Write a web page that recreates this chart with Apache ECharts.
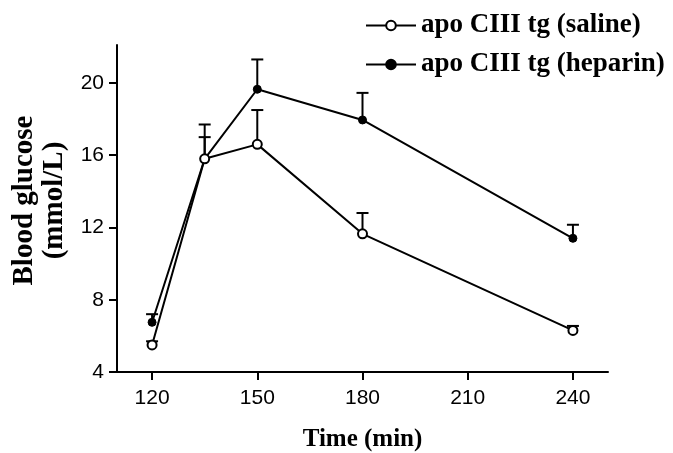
<!DOCTYPE html>
<html>
<head>
<meta charset="utf-8">
<script src="https://cdn.jsdelivr.net/npm/echarts@6/dist/echarts.min.js"></script>
<style>html,body{margin:0;padding:0;background:#fff;}#c{width:673px;height:453px;}</style>
</head>
<body>
<div id="c"></div>
<script>
const times = [120, 135, 150, 180, 240];
const salineMean = [5.5, 15.8, 16.6, 11.65, 6.3];
const salineUpper = [5.7, 17.0, 18.5, 12.8, 6.55];
const heparinMean = [6.75, 15.8, 19.65, 17.95, 11.4];
const heparinUpper = [7.2, 17.7, 21.3, 19.45, 12.15];
const yTicks = [4, 8, 12, 16, 20];
const xTicks = [120, 150, 180, 210, 240];

const serif = '"Liberation Serif", "Times New Roman", serif';
const sans = '"Liberation Sans", Arial, sans-serif';

function errSeries(mean, upper, z) {
  return {
    type: 'custom',
    z: z,
    silent: true,
    data: times.map((t, i) => [t, mean[i], upper[i]]),
    renderItem: function (params, api) {
      const p0 = api.coord([api.value(0), api.value(1)]);
      const p1 = api.coord([api.value(0), api.value(2)]);
      const st = { stroke: '#000', lineWidth: 2 };
      return {
        type: 'group',
        children: [
          { type: 'line', shape: { x1: p0[0], y1: p0[1], x2: p1[0], y2: p1[1] }, style: st },
          { type: 'line', shape: { x1: p1[0] - 6, y1: p1[1], x2: p1[0] + 6, y2: p1[1] }, style: st }
        ]
      };
    }
  };
}

const chart = echarts.init(document.getElementById('c'), null, { renderer: 'canvas' });
chart.setOption({
  animation: false,
  backgroundColor: '#fff',
  grid: { left: 117, right: 65, top: 45, bottom: 81, containLabel: false, outerBoundsMode: 'none' },
  legend: {
    left: 360, top: 7, orient: 'vertical', itemGap: 12,
    itemWidth: 50, itemHeight: 12,
    textStyle: { fontFamily: serif, fontWeight: 'bold', fontSize: 27, color: '#000' },
    data: ['apo CIII tg (saline)', 'apo CIII tg (heparin)']
  },
  xAxis: {
    type: 'value', min: 110, max: 250, interval: 30,
    name: 'Time (min)', nameLocation: 'middle', nameGap: 55,
    nameTextStyle: { fontFamily: serif, fontWeight: 'bold', fontSize: 25, color: '#000' },
    axisLine: { onZero: false, lineStyle: { color: '#000', width: 2 } },
    axisTick: { show: true, length: 8, lineStyle: { color: '#000', width: 2 },
      customValues: xTicks },
    axisLabel: { color: '#000', fontFamily: sans, fontSize: 21, margin: 16, customValues: xTicks },
    splitLine: { show: false }
  },
  yAxis: {
    type: 'value', min: 4, max: 22.1, interval: 4,
    name: 'Blood glucose\n(mmol/L)', nameLocation: 'middle', nameGap: 45, nameRotate: 90,
    nameTextStyle: { fontFamily: serif, fontWeight: 'bold', fontSize: 29, color: '#000', lineHeight: 30,
      padding: [0, 0, 0, 16] },
    axisLine: { onZero: false, lineStyle: { color: '#000', width: 2 } },
    axisTick: { show: true, length: 8, lineStyle: { color: '#000', width: 2 }, customValues: yTicks },
    axisLabel: { color: '#000', fontFamily: sans, fontSize: 21, margin: 13, customValues: yTicks },
    splitLine: { show: false }
  },
  series: [
    errSeries(salineMean, salineUpper, 1),
    errSeries(heparinMean, heparinUpper, 1),
    {
      name: 'apo CIII tg (heparin)', type: 'line', z: 3,
      data: times.map((t, i) => [t, heparinMean[i]]),
      symbol: 'circle', symbolSize: 8,
      lineStyle: { color: '#000', width: 2 },
      itemStyle: { color: '#000', borderColor: '#000', borderWidth: 1 }
    },
    {
      name: 'apo CIII tg (saline)', type: 'line', z: 4,
      data: times.map((t, i) => [t, salineMean[i]]),
      symbol: 'circle', symbolSize: 9,
      lineStyle: { color: '#000', width: 2 },
      itemStyle: { color: '#fff', borderColor: '#000', borderWidth: 2 }
    }
  ]
});
</script>
</body>
</html>
